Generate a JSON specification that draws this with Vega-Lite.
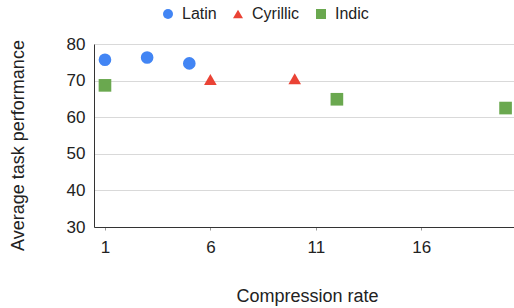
{
  "$schema": "https://vega.github.io/schema/vega-lite/v6.json",
  "width": 420,
  "height": 183,
  "autosize": {"type": "none"},
  "padding": {"left": 94, "top": 44, "right": 0, "bottom": 81},
  "background": "white",
  "config": {
    "font": "Liberation Sans",
    "view": {"stroke": null},
    "axis": {"labelFont": "Liberation Sans", "titleFont": "Liberation Sans", "labelFontSize": 17, "titleFontSize": 18, "titleFontWeight": "normal", "labelColor": "#222", "titleColor": "#222"}
  },
  "data": {
    "values": [
      {"script": "Latin", "rate": 1, "perf": 75.7},
      {"script": "Latin", "rate": 3, "perf": 76.3},
      {"script": "Latin", "rate": 5, "perf": 74.7},
      {"script": "Cyrillic", "rate": 6, "perf": 70.3},
      {"script": "Cyrillic", "rate": 10, "perf": 70.5},
      {"script": "Indic", "rate": 1, "perf": 68.7},
      {"script": "Indic", "rate": 12, "perf": 64.9},
      {"script": "Indic", "rate": 20, "perf": 62.5}
    ]
  },
  "mark": {"type": "point", "filled": true, "opacity": 1, "size": 160},
  "encoding": {
    "x": {
      "field": "rate", "type": "quantitative", "title": "Compression rate",
      "scale": {"domain": [0.48, 20.4], "nice": false, "zero": false},
      "axis": {"values": [1, 6, 11, 16], "grid": false, "domainColor": "#333", "tickColor": "#999", "tickSize": 3, "labelPadding": 9, "titlePadding": 32, "titleX": 213, "labelFlush": false}
    },
    "y": {
      "field": "perf", "type": "quantitative", "title": "Average task performance",
      "scale": {"domain": [30, 80], "nice": false, "zero": false},
      "axis": {"values": [30, 40, 50, 60, 70, 80], "gridColor": "#d9d9d9", "domainColor": "#333", "ticks": false, "labelPadding": 9, "titlePadding": 39, "titleY": 101}
    },
    "color": {
      "field": "script", "type": "nominal",
      "scale": {"domain": ["Latin", "Cyrillic", "Indic"], "range": ["#4285f4", "#ea4335", "#6aa84f"]},
      "legend": {"orient": "none", "legendX": 66, "legendY": -38, "direction": "horizontal", "title": null, "labelFontSize": 16, "labelColor": "#222", "symbolSize": 100, "columnPadding": 13, "labelOffset": 6}
    },
    "shape": {
      "field": "script", "type": "nominal",
      "scale": {"domain": ["Latin", "Cyrillic", "Indic"], "range": ["circle", "triangle-up", "square"]},
      "legend": null
    }
  }
}
